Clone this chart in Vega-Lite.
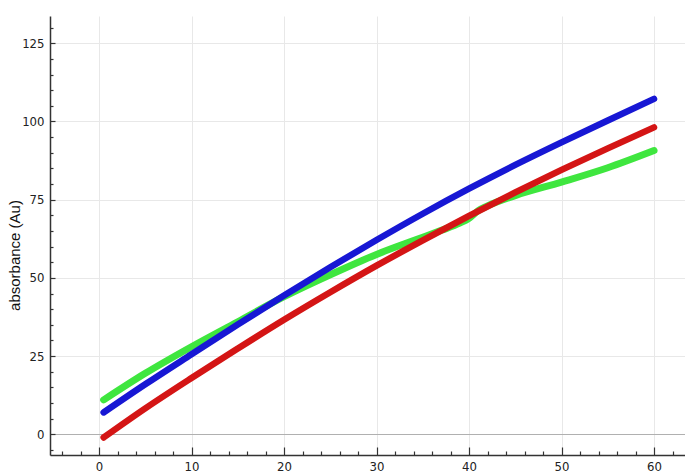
{
  "$schema": "https://vega.github.io/schema/vega-lite/v6.json",
  "width": 635,
  "height": 439,
  "autosize": {"type": "none"},
  "padding": {"left": 50, "top": 16, "right": 0, "bottom": 18},
  "background": "white",
  "config": {
    "view": {"stroke": null},
    "axis": {
      "labelFont": "Liberation Sans Narrow, DejaVu Sans Condensed, sans-serif",
      "labelFontSize": 13,
      "labelColor": "#222",
      "domainColor": "#333",
      "domainWidth": 1.5,
      "tickColor": "#333",
      "tickWidth": 1.2,
      "gridColor": "#e8e8e8",
      "gridWidth": 1
    }
  },
  "datasets": {
    "pts": [
      {"series": "green", "x": 0.5, "y": 11},
      {"series": "green", "x": 5, "y": 19.5},
      {"series": "green", "x": 10, "y": 28},
      {"series": "green", "x": 15, "y": 36},
      {"series": "green", "x": 20, "y": 44},
      {"series": "green", "x": 25, "y": 51},
      {"series": "green", "x": 30, "y": 57.5},
      {"series": "green", "x": 35, "y": 63},
      {"series": "green", "x": 37, "y": 65.2},
      {"series": "green", "x": 39, "y": 67.5},
      {"series": "green", "x": 40, "y": 69},
      {"series": "green", "x": 41, "y": 71.5},
      {"series": "green", "x": 42, "y": 73},
      {"series": "green", "x": 45, "y": 76.3},
      {"series": "green", "x": 50, "y": 80.6},
      {"series": "green", "x": 55, "y": 85.2},
      {"series": "green", "x": 60, "y": 90.7},
      {"series": "red", "x": 0.5, "y": -1},
      {"series": "red", "x": 5, "y": 8.3},
      {"series": "red", "x": 10, "y": 18},
      {"series": "red", "x": 15, "y": 27.4},
      {"series": "red", "x": 20, "y": 36.6},
      {"series": "red", "x": 25, "y": 45.4},
      {"series": "red", "x": 30, "y": 53.9},
      {"series": "red", "x": 35, "y": 62},
      {"series": "red", "x": 40, "y": 69.8},
      {"series": "red", "x": 45, "y": 77.3},
      {"series": "red", "x": 50, "y": 84.5},
      {"series": "red", "x": 55, "y": 91.4},
      {"series": "red", "x": 60, "y": 98.1},
      {"series": "blue", "x": 0.5, "y": 7},
      {"series": "blue", "x": 5, "y": 16},
      {"series": "blue", "x": 10, "y": 25.6},
      {"series": "blue", "x": 15, "y": 35.1},
      {"series": "blue", "x": 20, "y": 44.4},
      {"series": "blue", "x": 25, "y": 53.4},
      {"series": "blue", "x": 30, "y": 62.1},
      {"series": "blue", "x": 35, "y": 70.5},
      {"series": "blue", "x": 40, "y": 78.5},
      {"series": "blue", "x": 45, "y": 86.1},
      {"series": "blue", "x": 50, "y": 93.3},
      {"series": "blue", "x": 55, "y": 100.3},
      {"series": "blue", "x": 60, "y": 107.2}
    ]
  },
  "data": {"name": "pts"},
  "encoding": {
    "x": {
      "field": "x",
      "type": "quantitative",
      "scale": {"domain": [-5.3, 63.35], "nice": false, "zero": false},
      "axis": {
        "title": null,
        "values": [-4, -2, 0, 2, 4, 6, 8, 10, 12, 14, 16, 18, 20, 22, 24, 26, 28, 30, 32, 34, 36, 38, 40, 42, 44, 46, 48, 50, 52, 54, 56, 58, 60, 62],
        "labelExpr": "datum.value % 10 === 0 ? datum.label : ''",
        "tickSize": {"condition": {"test": "datum.value % 10 === 0", "value": -8}, "value": -4},
        "labelPadding": 13,
        "grid": true,
        "gridOpacity": {"condition": {"test": "datum.value % 10 === 0", "value": 1}, "value": 0}
      }
    },
    "y": {
      "field": "y",
      "type": "quantitative",
      "scale": {"domain": [-6.6, 133.7], "nice": false, "zero": false},
      "axis": {
        "title": "absorbance (Au)",
        "titleFont": "Liberation Sans, sans-serif",
        "titleFontSize": 15,
        "titleFontWeight": "normal",
        "titleColor": "#111",
        "titleX": -36,
        "titleY": 239,
        "titleAngle": 270,
        "titleAlign": "center",
        "titleBaseline": "middle",
        "values": [-5, 0, 5, 10, 15, 20, 25, 30, 35, 40, 45, 50, 55, 60, 65, 70, 75, 80, 85, 90, 95, 100, 105, 110, 115, 120, 125, 130],
        "labelExpr": "datum.value % 25 === 0 ? datum.label : ''",
        "tickSize": {"condition": {"test": "datum.value % 25 === 0", "value": -5}, "value": -3},
        "labelPadding": 11,
        "grid": true,
        "gridOpacity": {"condition": {"test": "datum.value % 25 === 0", "value": 1}, "value": 0},
        "gridColor": {"condition": {"test": "datum.value === 0", "value": "#b0b0b0"}, "value": "#e8e8e8"}
      }
    },
    "color": {
      "field": "series",
      "type": "nominal",
      "scale": {"domain": ["green", "red", "blue"], "range": ["#3fe63f", "#d41515", "#1717d4"]},
      "legend": null
    }
  },
  "layer": [
    {"transform": [{"filter": "datum.series === 'green'"}], "mark": {"type": "line", "strokeWidth": 7, "strokeCap": "round", "interpolate": "monotone"}},
    {"transform": [{"filter": "datum.series === 'red'"}], "mark": {"type": "line", "strokeWidth": 6.5, "strokeCap": "round", "interpolate": "monotone"}},
    {"transform": [{"filter": "datum.series === 'blue'"}], "mark": {"type": "line", "strokeWidth": 6.5, "strokeCap": "round", "interpolate": "monotone"}}
  ]
}
